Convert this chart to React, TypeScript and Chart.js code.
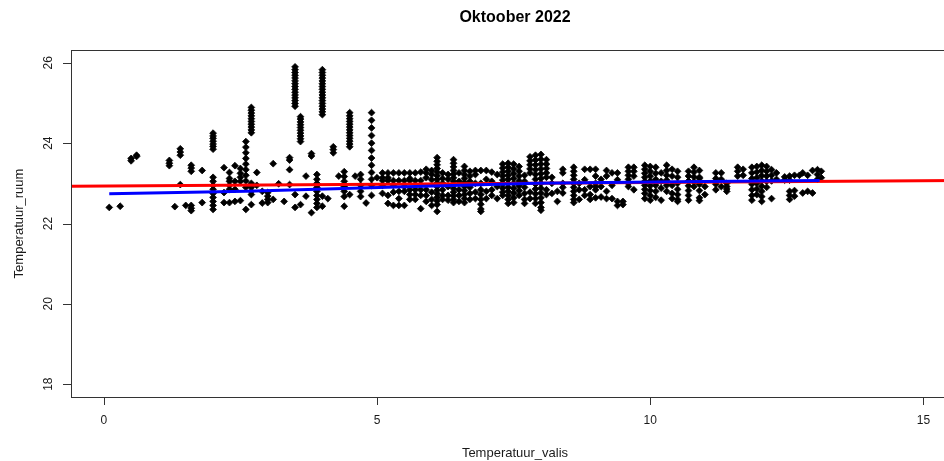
import React, { useEffect, useRef } from "react";
import { Chart, registerables } from "chart.js";

Chart.register(...registerables);

const chartTitle = "Oktoober 2022";
const xTitle = "Temperatuur_valis";
const yTitle = "Temperatuur_ruum";

const xTicks = [0, 5, 10, 15];
const yTicks = [18, 20, 22, 24, 26];

const xRange = [-0.6, 15.65];
const yRange = [17.68, 26.32];

// outdoor temperature of each column of readings
const valisTemp: number[] = [
  0.1, 0.3, 0.5, 0.6, 1.2, 1.3, 1.4, 1.5, 1.6, 1.8,
  2.0, 2.2, 2.3, 2.4, 2.5, 2.6, 2.7, 2.8, 2.9, 3.0,
  3.1, 3.2, 3.3, 3.4, 3.5, 3.6, 3.7, 3.8, 3.9, 4.0,
  4.1, 4.2, 4.3, 4.4, 4.5, 4.6, 4.7, 4.8, 4.9, 5.0,
  5.1, 5.2, 5.3, 5.4, 5.5, 5.6, 5.7, 5.8, 5.9, 6.0,
  6.1, 6.2, 6.3, 6.4, 6.5, 6.6, 6.7, 6.8, 6.9, 7.0,
  7.1, 7.2, 7.3, 7.4, 7.5, 7.6, 7.7, 7.8, 7.9, 8.0,
  8.1, 8.2, 8.3, 8.4, 8.6, 8.7, 8.8, 8.9, 9.0, 9.1,
  9.2, 9.3, 9.4, 9.5, 9.6, 9.7, 9.9, 10.0, 10.1, 10.2,
  10.3, 10.4, 10.5, 10.7, 10.8, 10.9, 11.0, 11.2, 11.3, 11.4,
  11.6, 11.7, 11.86, 11.95, 12.04, 12.13, 12.22, 12.31, 12.46, 12.55,
  12.64, 12.73, 12.79, 12.88, 12.97, 13.06, 13.13,
];

// room temperatures recorded at the matching outdoor temperature
const ruumTemp: number[][] = [
  [22.40],
  [22.43],
  [23.56, 23.62],
  [23.67, 23.70],
  [23.44, 23.50, 23.57],
  [22.42],
  [22.97, 23.70, 23.78, 23.86],
  [22.45],
  [22.32, 22.38, 22.45, 23.30, 23.38, 23.45],
  [22.52, 23.32],
  // 2.0
  [22.35, 22.45, 22.55, 22.65, 22.75, 22.85, 22.95, 23.05, 23.15, 23.85, 23.92, 23.98, 24.05, 24.12, 24.18, 24.25],
  [22.52, 22.77, 23.39],
  [22.52, 22.85, 22.95, 23.05, 23.12, 23.27],
  [22.55, 22.85, 23.05, 23.44],
  [22.57, 23.05, 23.15, 23.25, 23.37],
  [22.35, 22.90, 23.06, 23.20, 23.34, 23.48, 23.62, 23.76, 23.90, 24.04],
  [22.47, 22.72, 22.80, 22.90, 23.00, 24.26, 24.33, 24.40, 24.47, 24.54, 24.61, 24.68, 24.75, 24.82, 24.89],
  [22.95, 23.27],
  [22.51, 22.80],
  [22.52, 22.60, 22.68, 22.77],
  // 3.1
  [22.60, 23.49],
  [22.99],
  [22.55],
  [22.97, 23.34, 23.58, 23.64],
  [22.40, 22.72, 24.92, 24.99, 25.06, 25.13, 25.20, 25.27, 25.34, 25.41, 25.48, 25.55, 25.62, 25.69, 25.76, 25.83, 25.90],
  [22.47, 24.04, 24.11, 24.18, 24.25, 24.32, 24.39, 24.46, 24.53, 24.60, 24.66],
  [22.68, 23.18],
  [22.27, 23.68, 23.74],
  [22.40, 22.50, 22.60, 22.70, 22.80, 22.90, 23.00, 23.10, 23.22],
  [22.43, 22.68, 24.71, 24.78, 24.85, 24.92, 24.99, 25.06, 25.13, 25.20, 25.27, 25.34, 25.41, 25.48, 25.55, 25.62, 25.69, 25.76, 25.83],
  // 4.1
  [22.62],
  [23.76, 23.84, 23.91],
  [23.18],
  [22.43, 22.67, 22.80, 22.92, 23.05, 23.17, 23.29],
  [22.72, 23.91, 23.98, 24.05, 24.12, 24.19, 24.26, 24.33, 24.40, 24.47, 24.54, 24.61, 24.68, 24.76],
  [23.18],
  [22.67, 22.80, 22.95, 23.10, 23.22],
  [22.51],
  [22.70, 22.95, 23.10, 23.27, 23.45, 23.63, 23.82, 24.00, 24.19, 24.38, 24.57, 24.76],
  [23.14],
  // 5.1
  [22.75, 22.95, 23.07, 23.14, 23.26],
  [22.50, 22.70, 23.07, 23.14, 23.26],
  [22.45, 22.78, 22.95, 23.07, 23.26],
  [22.45, 22.62, 22.80, 23.07, 23.26],
  [22.45, 22.80, 22.92, 23.07, 23.26],
  [22.60, 22.72, 22.84, 23.07, 23.12, 23.26],
  [22.60, 22.72, 22.84, 23.07, 23.26],
  [22.37, 22.70, 22.84, 23.07, 23.28],
  [22.55, 22.70, 22.84, 23.14, 23.26, 23.35],
  [22.45, 22.60, 22.78, 23.09, 23.22, 23.32],
  // 6.1
  [22.30, 22.47, 22.56, 22.65, 22.74, 22.83, 22.92, 23.01, 23.10, 23.19, 23.28, 23.37, 23.46, 23.55, 23.64],
  [22.60, 22.70, 22.84, 23.00, 23.12, 23.26],
  [22.58, 22.70, 22.92, 23.10, 23.22],
  [22.52, 22.60, 22.69, 22.78, 22.87, 22.96, 23.05, 23.14, 23.23, 23.32, 23.41, 23.50, 23.59],
  [22.55, 22.70, 22.84, 23.05, 23.26],
  [22.52, 22.62, 22.72, 22.82, 22.92, 23.02, 23.12, 23.22, 23.32, 23.42],
  [22.60, 22.75, 22.90, 23.05, 23.18, 23.30],
  [22.62, 22.78, 23.00, 23.22, 23.32],
  [22.30, 22.36, 22.48, 22.60, 22.72, 22.84, 23.00, 23.32],
  [22.62, 22.80, 23.10, 23.32],
  // 7.1
  [22.70, 22.84, 23.05, 23.28],
  [22.62, 22.92, 23.22],
  [22.70, 22.78, 22.88, 22.98, 23.08, 23.18, 23.28, 23.38, 23.48],
  [22.50, 22.60, 22.70, 22.80, 22.90, 23.00, 23.10, 23.20, 23.30, 23.40, 23.50],
  [22.52, 22.64, 22.76, 22.88, 23.00, 23.12, 23.24, 23.36, 23.48],
  [22.70, 22.82, 22.94, 23.06, 23.18, 23.30, 23.42],
  [22.50, 22.60, 22.75, 22.90, 23.05, 23.20],
  [22.62, 22.78, 23.26, 23.36, 23.46, 23.56, 23.66],
  [22.50, 22.62, 22.74, 22.86, 22.98, 23.10, 23.22, 23.34, 23.46, 23.58, 23.70],
  [22.33, 22.40, 22.52, 22.64, 22.76, 22.88, 23.00, 23.12, 23.24, 23.36, 23.48, 23.60, 23.72],
  // 8.1
  [22.72, 22.84, 23.15, 23.26, 23.37, 23.48, 23.59],
  [22.75, 23.00, 23.15],
  [22.55, 22.80],
  [22.76, 22.90, 23.00, 23.26, 23.35],
  [22.52, 22.60, 22.70, 22.80, 22.90, 23.00, 23.10, 23.20, 23.30, 23.40],
  [22.60, 22.84, 23.00],
  [22.70, 22.84, 23.09, 23.35],
  [22.60, 22.72, 22.92, 23.35],
  [22.64, 22.84, 22.92, 23.00, 23.18, 23.35],
  [22.66, 22.92, 23.10],
  // 9.2
  [22.62, 22.80, 23.18, 23.32],
  [22.62, 22.95, 23.26],
  [22.45, 22.55, 23.09, 23.26],
  [22.47, 22.55],
  [22.92, 23.00, 23.10, 23.20, 23.30, 23.40],
  [22.84, 23.18, 23.30, 23.40],
  [22.62, 22.75, 22.85, 22.95, 23.05, 23.15, 23.25, 23.35, 23.45],
  [22.58, 22.70, 22.82, 22.94, 23.06, 23.18, 23.30, 23.42],
  [22.65, 22.80, 22.95, 23.10, 23.25, 23.40],
  [22.58, 22.88, 23.05, 23.26],
  // 10.3
  [22.80, 22.95, 23.08, 23.20, 23.32, 23.45],
  [22.62, 22.75, 22.95, 23.18, 23.35],
  [22.55, 22.60, 22.72, 22.85, 23.00, 23.15, 23.30],
  [22.58, 22.70, 22.82, 22.94, 23.06, 23.18, 23.30],
  [22.92, 23.04, 23.16, 23.28, 23.40],
  [22.57, 22.64, 22.82, 22.98, 23.12, 23.15, 23.32],
  [22.72, 22.92],
  [22.84, 22.98, 23.12, 23.26],
  [22.92, 23.10, 23.26],
  [22.80, 22.86, 22.92, 23.00],
  // 11.6
  [23.18, 23.30, 23.40],
  [23.20, 23.35],
  [22.58, 22.70, 22.84, 22.98, 23.12, 23.26, 23.40],
  [22.72, 22.86, 23.00, 23.14, 23.28, 23.42],
  [22.55, 22.67, 22.80, 22.93, 23.06, 23.19, 23.32, 23.45],
  [22.90, 23.05, 23.18, 23.30, 23.42],
  [22.62, 23.06, 23.20, 23.34],
  [23.10, 23.26],
  [23.08, 23.16],
  [22.60, 22.70, 22.80, 23.08, 23.18],
  // 12.64
  [22.68, 22.82, 23.20],
  [23.20],
  [22.76, 23.26],
  [22.80, 23.20],
  [22.76, 23.32],
  [23.10, 23.22, 23.34],
  [23.14, 23.30],
];

// straight-line fit across the whole axis
const fitX = [-0.6, 15.7];
const fitY = [22.93, 23.073];

// smoothed trend over the observed range
const smoothX = [0.1, 2.6, 5.2, 7.9, 10.5, 13.1];
const smoothY = [22.74, 22.8, 22.9, 23.0, 23.04, 23.07];

const FONT = '"Liberation Sans", Arial, sans-serif';

const frame = {
  id: "baseFrame",
  afterDraw(chart: any) {
    const { ctx, chartArea: a, scales } = chart;
    const xs = scales.x;
    const ys = scales.y;
    ctx.save();
    ctx.strokeStyle = "#333";
    ctx.lineWidth = 1;
    ctx.strokeRect(a.left + 0.5, a.top + 0.5, a.right - a.left, a.bottom - a.top);

    ctx.beginPath();
    for (const v of xTicks) {
      const p = Math.round(xs.getPixelForValue(v)) + 0.5;
      ctx.moveTo(p, a.bottom);
      ctx.lineTo(p, a.bottom + 8);
    }
    for (const v of yTicks) {
      const p = Math.round(ys.getPixelForValue(v)) + 0.5;
      ctx.moveTo(a.left, p);
      ctx.lineTo(a.left - 8, p);
    }
    ctx.stroke();

    ctx.fillStyle = "#1a1a1a";
    ctx.font = `12px ${FONT}`;
    ctx.textAlign = "center";
    ctx.textBaseline = "middle";
    for (const v of xTicks) {
      ctx.fillText(String(v), xs.getPixelForValue(v), a.bottom + 24);
    }
    for (const v of yTicks) {
      ctx.save();
      ctx.translate(a.left - 22, ys.getPixelForValue(v));
      ctx.rotate(-Math.PI / 2);
      ctx.fillText(String(v), 0, 0);
      ctx.restore();
    }

    const cx = (a.left + a.right) / 2;
    const cy = (a.top + a.bottom) / 2;
    ctx.font = `13px ${FONT}`;
    ctx.fillText(xTitle, cx, 453);
    ctx.save();
    ctx.translate(19, cy);
    ctx.rotate(-Math.PI / 2);
    ctx.fillText(yTitle, 0, 0);
    ctx.restore();

    ctx.fillStyle = "#000";
    ctx.font = `bold 16px ${FONT}`;
    ctx.fillText(chartTitle, cx, 18);
    ctx.restore();
  },
};

export default function App() {
  const canvasRef = useRef<HTMLCanvasElement | null>(null);

  useEffect(() => {
    if (!canvasRef.current) return;
    const points = valisTemp.flatMap((x, i) => (ruumTemp[i] || []).map((y) => ({ x, y })));
    const fitLine = fitX.map((x, i) => ({ x, y: fitY[i] }));
    const smoothLine = smoothX.map((x, i) => ({ x, y: smoothY[i] }));

    const chart = new Chart(canvasRef.current, {
      type: "scatter",
      data: {
        datasets: [
          {
            data: points,
            order: 3,
            pointStyle: "rectRot",
            pointRadius: 3.4,
            pointBorderWidth: 0.8,
            backgroundColor: "#000",
            borderColor: "#000",
          },
          {
            data: fitLine,
            order: 2,
            showLine: true,
            pointRadius: 0,
            borderColor: "#ff0000",
            borderWidth: 3,
          },
          {
            data: smoothLine,
            order: 1,
            showLine: true,
            pointRadius: 0,
            borderColor: "#0000ff",
            borderWidth: 3,
          },
        ],
      },
      options: {
        animation: false,
        responsive: false,
        devicePixelRatio: 1,
        layout: { padding: { left: 71, top: 50, right: 31, bottom: 64 } },
        scales: {
          x: { type: "linear", min: xRange[0], max: xRange[1], display: false },
          y: { type: "linear", min: yRange[0], max: yRange[1], display: false },
        },
        plugins: {
          legend: { display: false },
          tooltip: { enabled: false },
          title: { display: false },
        },
      },
      plugins: [frame],
    });
    return () => chart.destroy();
  }, []);

  return (
    <div
      style={{
        position: "fixed",
        left: 0,
        top: 0,
        width: 944,
        height: 461,
        overflow: "hidden",
        background: "#fff",
      }}
    >
      <canvas ref={canvasRef} width={990} height={461} style={{ display: "block", width: 990, height: 461 }} />
    </div>
  );
}
